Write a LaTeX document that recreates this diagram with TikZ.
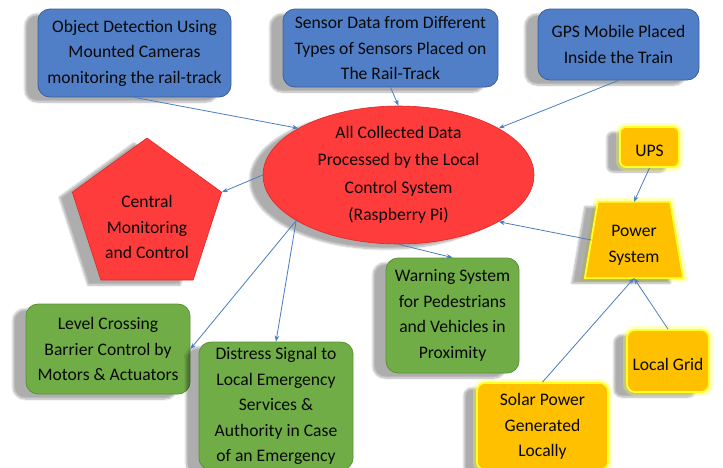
\documentclass[tikz,border=0pt]{standalone}
\usepackage{fontspec}
\setmainfont{Carlito}
\usetikzlibrary{shapes.geometric,arrows.meta,shadows.blur}
\definecolor{bfill}{RGB}{80,127,200}
\definecolor{bline}{RGB}{60,95,150}
\definecolor{rfill}{RGB}{255,60,60}
\definecolor{rline}{RGB}{220,40,40}
\definecolor{gfill}{RGB}{112,173,71}
\definecolor{gline}{RGB}{90,145,55}
\definecolor{ofill}{RGB}{255,192,0}
\definecolor{glowc}{RGB}{255,255,40}
\definecolor{arrc}{RGB}{74,126,190}
\definecolor{txt}{RGB}{8,8,8}
\tikzset{
  lbl/.style={align=center, text=txt, inner sep=0pt, font=\fontsize{17.6}{25.5}\selectfont},
  shad/.style={blur shadow={shadow xshift=-13pt, shadow yshift=-5pt, shadow opacity=32, shadow blur steps=8}},
  base/.style={lbl, shad, execute at begin node={\rule{0pt}{18.5pt}}},
  bluebox/.style={base, rectangle, rounded corners=12pt, fill=bfill, draw=bline, line width=0.8pt},
  greenbox/.style={base, rectangle, rounded corners=12pt, fill=gfill, draw=gline, line width=0.8pt},
  redshape/.style={base, fill=rfill, draw=rline, line width=0.6pt},
  goldpaint/.style={fill=ofill, draw=glowc, line width=1.8pt,
    preaction={draw=glowc, line width=8pt, opacity=0.3}},
  goldbox/.style={base, goldpaint},
  conn/.style={draw=arrc, line width=0.8pt, -{Stealth[length=6pt,width=4.5pt]}},
}
\begin{document}
\begin{tikzpicture}[x=1pt,y=-1pt]
\useasboundingbox (0,0) rectangle (723,467);
% blue input boxes
\node[bluebox, minimum width=193pt, minimum height=88pt] (b1) at (134.5,53)
  {Object Detection Using\\Mounted Cameras\\monitoring the rail-track};
\node[bluebox, minimum width=215pt, minimum height=78pt] (b2) at (390.5,48)
  {Sensor Data from Different\\Types of Sensors Placed on\\The Rail-Track};
\node[bluebox, minimum width=161pt, minimum height=71pt] (b3) at (618.5,44.5)
  {GPS Mobile Placed\\Inside the Train};
% central ellipse
\node[redshape, ellipse, minimum width=271pt, minimum height=124pt,
  font=\fontsize{17.6}{27.5}\selectfont] (el) at (398.5,175)
  {All Collected Data\\Processed by the Local\\Control System\\(Raspberry Pi)};
% pentagon
\node[redshape, regular polygon, regular polygon sides=5, minimum size=157pt] (pent) at (147,216.5) {};
\node[lbl] (pentlbl) at (147,227)
  {Central\\Monitoring\\and Control};
% green output boxes
\node[greenbox, minimum width=164pt, minimum height=90pt] (lv) at (108,349)
  {Level Crossing\\Barrier Control by\\Motors \& Actuators};
\node[greenbox, minimum width=154pt, minimum height=128pt] (ds) at (276,406)
  {Distress Signal to\\Local Emergency\\Services \&\\Authority in Case\\of an Emergency};
\node[greenbox, minimum width=133pt, minimum height=115pt] (wn) at (452.5,315.5)
  {Warning System\\for Pedestrians\\and Vehicles in\\Proximity};
% power
\node[goldbox, rectangle, rounded corners=6pt, minimum width=59pt, minimum height=40pt] (ups) at (649.5,147) {UPS};
\node[lbl, rectangle, minimum width=98pt, minimum height=76pt] (pw) at (634,240) {};
\path[goldpaint, shad] (pw.south west) -- (pw.south east) -- ([xshift=-13pt]pw.north east)
  -- ([xshift=13pt]pw.north west) -- cycle;
\node[lbl] (pwlbl) at (634,245.5) {Power\\System};
\node[goldbox, rectangle, rounded corners=8pt, minimum width=82pt, minimum height=62pt] (gr) at (668,361) {Local Grid};
\node[goldbox, rectangle, rounded corners=8pt, minimum width=131pt, minimum height=87pt] (sol) at (542.5,426.5)
  {Solar Power\\Generated\\Locally};
% connectors
\draw[conn] (b1.south) -- (el.155.5);
\draw[conn] (b2.south) -- (el.north);
\draw[conn] (b3.south) -- (el.25);
\draw[conn] (el.west) -- (pent.corner 5);
\draw[conn] (el.204.5) -- (lv.east);
\draw[conn] (el.204.5) -- (ds.north);
\draw[conn] (el.south) -- (wn.north);
\draw[conn] ([xshift=6.5pt]pw.west) -- (el.335);
\draw[conn] (ups.south) -- (pw.north);
\draw[conn] (sol.north) -- (pw.south);
\draw[conn] (gr.north) -- (pw.south);
\end{tikzpicture}
\end{document}
